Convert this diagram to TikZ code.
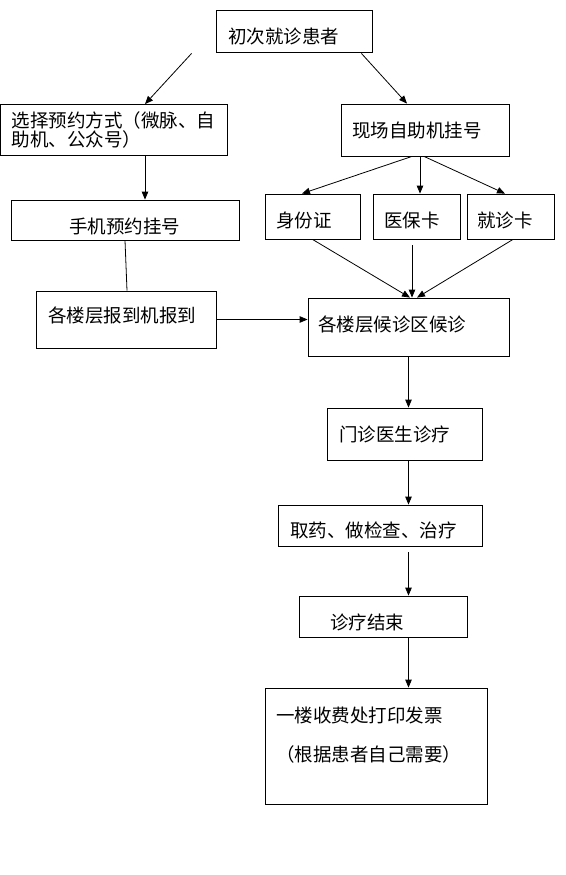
\documentclass[tikz,border=0pt]{standalone}
\usepackage{fontspec}
\usetikzlibrary{arrows.meta}
\newfontfamily\cjk{Noto Sans CJK SC}
\tikzset{box/.style = {draw, line width=.8pt, inner ysep=0pt, align=left,
    font=\cjk\fontsize{18.5}{19}\selectfont},
  boxsize/.style n args = {3}{minimum height=#2, inner xsep=#3, text width=#1-2*#3},
  arr/.style = {line width=.8pt, -{Triangle[length=8pt,width=6.5pt]}}}

\begin{document}
\begin{tikzpicture}[x=1pt, y=-1pt]
  \useasboundingbox (0,0) rectangle (565,875);
  % top
  \node[box, boxsize={156}{42}{12}, text height=27.5pt] (first) at (294,31) {初次就诊患者};
  \node[box, boxsize={227}{51}{11}] (choose) at (114,130) {选择预约方式（微脉、自\\助机、公众号）};
  \node[box, boxsize={168}{52}{11}] (kiosk) at (425,130) {现场自助机挂号};
  % left branch
  \node[box, boxsize={228}{40}{12}, align=center, text height=27.5pt] (phone) at (125,220) {手机预约挂号};
  \node[box, boxsize={180}{57}{12}, text depth=9.3pt] (checkin) at (126,319.5) {各楼层报到机报到};
  % right branch
  \node[box, boxsize={95}{45}{11}, text height=23.5pt] (idcard) at (312.5,216.5) {身份证};
  \node[box, boxsize={87}{45}{11}, text height=23.5pt] (inscard) at (416.5,216.5) {医保卡};
  \node[box, boxsize={87}{45}{10}, text height=23.5pt] (mcard) at (510.5,216.5) {就诊卡};
  % main column
  \node[box, boxsize={201}{58}{10}, text depth=7.3pt] (wait) at (408.5,327) {各楼层候诊区候诊};
  \node[box, boxsize={155}{52}{12}] (doctor) at (404.5,434) {门诊医生诊疗};
  \node[box, boxsize={204}{41}{12}, text height=25.5pt] (exam) at (380,525.5) {取药、做检查、治疗};
  \node[box, boxsize={168}{41}{31}, text height=27.5pt] (done) at (383,616.5) {诊疗结束};
  \node[box, boxsize={222}{116}{11}] (bill) at (376,746)
    {一楼收费处打印发票\\[19.5pt]（根据患者自己需要）\\[5pt]\mbox{}};

  \draw[arr] ([xshift=-24pt,yshift=-1pt]first.south west) -- ([xshift=31pt]choose.north);
  \draw[arr] ([xshift=-11pt,yshift=-1pt]first.south east) -- ([xshift=-18pt]kiosk.north);
  \draw[arr] ([xshift=31pt]choose.south) -- ([xshift=20pt]phone.north);
  \draw[arr] ([xshift=-13pt]kiosk.south) -- ([xshift=-10.5pt]idcard.north);
  \draw[arr] ([xshift=-5pt]kiosk.south) -- ([xshift=3.5pt]inscard.north);
  \draw[arr] ([xshift=-1pt]kiosk.south) -- ([xshift=-5.5pt]mcard.north);
  \draw[line width=.8pt] (phone.south) -- ([xshift=1pt]checkin.north);
  \draw[arr] (checkin.east) -- (checkin.east -| wait.west);
  \draw[arr] (idcard.south) -- ([xshift=1.5pt]wait.north);
  \draw[arr] ([xshift=-4.5pt,yshift=-6pt]inscard.south) -- ([xshift=3.5pt]wait.north);
  \draw[arr] ([xshift=2.5pt]mcard.south) -- ([xshift=8.5pt]wait.north);
  \draw[arr] (wait.south) -- (wait.south |- doctor.north);
  \draw[arr] (doctor.south -| wait.south) -- (exam.north -| wait.south);
  \draw[arr] ([yshift=-6pt]exam.south -| wait.south) -- (done.north -| wait.south);
  \draw[arr] (done.south -| wait.south) -- (bill.north -| wait.south);
\end{tikzpicture}
\end{document}
